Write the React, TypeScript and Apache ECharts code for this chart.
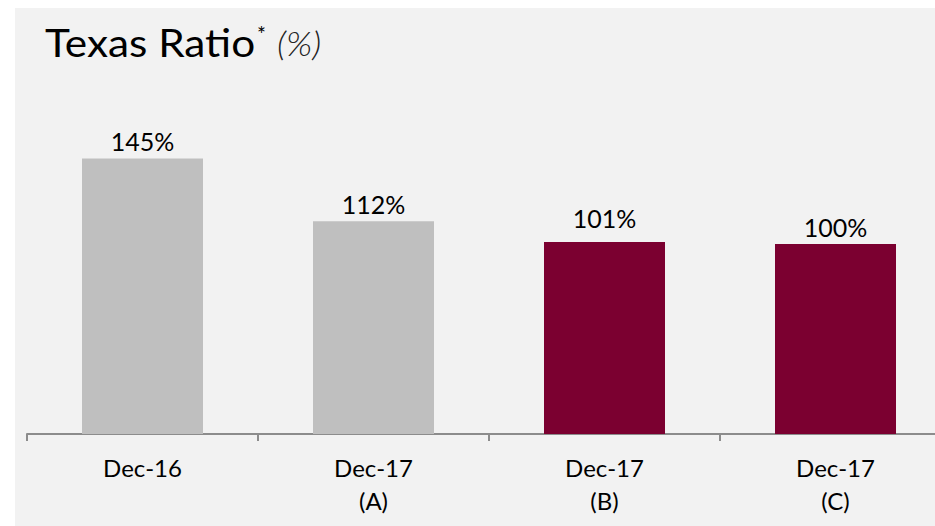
import React, { useEffect, useRef } from "react";
import * as echarts from "echarts";

const categories = ["Dec-16", "Dec-17\n(A)", "Dec-17\n(B)", "Dec-17\n(C)"];
const values = [145, 112, 101, 100];
const barColors = ["#bfbfbf", "#bfbfbf", "#7b0030", "#7b0030"];
const labelGaps = [5, 5, 12, 5];

export default function App() {
  const ref = useRef<HTMLDivElement>(null);
  useEffect(() => {
    const chart = echarts.init(ref.current!, null, { renderer: "svg" });
    chart.setOption({
      animation: false,
      backgroundColor: "#ffffff",
      graphic: [
        { type: "rect", z: -10, shape: { x: 15, y: 8, width: 940, height: 530 }, style: { fill: "#f2f2f2" } },
        { type: "text", x: 45, y: 42, scaleX: 1.085, style: { text: "Texas Ratio", fontSize: 39, fontFamily: "Lato", fill: "#000", verticalAlign: "middle" } },
        { type: "text", x: 257, y: 23, style: { text: "*", fontSize: 21, fontFamily: "Lato", fill: "#000", verticalAlign: "top" } },
        { type: "text", x: 277, y: 43, scaleX: 1.1, style: { text: "(%)", fontSize: 33, fontStyle: "italic", fontWeight: 300, fontFamily: "Lato", fill: "#222", verticalAlign: "middle" } },
      ],
      grid: { left: 27, width: 924, top: 54, bottom: 92, outerBoundsMode: "none", containLabel: false },
      xAxis: {
        type: "category",
        data: categories,
        axisLine: { lineStyle: { color: "#8c8c8c", width: 2 } },
        axisTick: { show: true, length: 7, lineStyle: { color: "#8c8c8c", width: 2 } },
        axisLabel: { color: "#000", fontFamily: "Lato", fontSize: 24, lineHeight: 33, margin: 17 },
      },
      yAxis: { type: "value", min: 0, max: 200, show: false, splitLine: { show: false } },
      series: [
        {
          type: "bar",
          barWidth: 121,
          data: values.map((v, i) => ({
            value: v,
            itemStyle: { color: barColors[i] },
            label: { distance: labelGaps[i] },
          })),
          label: {
            show: true,
            position: "top",
            distance: 5,
            formatter: "{c}%",
            color: "#000",
            fontFamily: "Lato",
            fontSize: 25,
          },
        },
      ],
    });
    return () => chart.dispose();
  }, []);
  return <div ref={ref} style={{ position: "fixed", left: 0, top: 0, width: 935, height: 526 }} />;
}
